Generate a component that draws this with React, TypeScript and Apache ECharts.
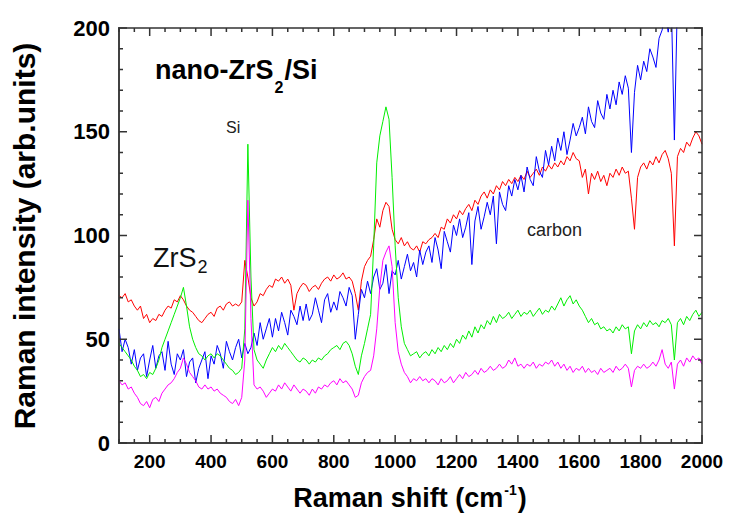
import React, { useEffect, useRef } from "react";
import * as echarts from "echarts";

// Raman shift sampling grid (cm^-1): 100 .. 2000 every 10
const shiftStart = 100;
const shiftStep = 10;

// Intensities (arb. units), one per grid point
const redValues = [
  71, 70, 72, 68, 69, 66, 64, 66, 60, 62, 58,
  60, 59, 62, 61, 64, 66, 65, 69, 68, 71,
  69, 66, 64, 63, 61, 59, 58, 60, 62, 63,
  61, 65, 66, 64, 67, 68, 66, 67, 66, 68,
  88, 80, 70, 66, 68, 72, 71, 74, 76, 75,
  79, 78, 80, 77, 79, 76, 64, 72, 75, 77,
  76, 73, 75, 76, 74, 77, 79, 80, 78, 81,
  79, 80, 82, 79, 80, 78, 72, 64, 78, 85,
  88, 90, 98, 108, 104, 112, 116, 114, 103, 98,
  96, 99, 95, 97, 94, 93, 95, 92, 97, 96,
  98, 99, 101, 99, 104, 103, 108, 106, 110, 108,
  112, 110, 113, 115, 112, 117, 115, 119, 121, 118,
  122, 120, 124, 122, 126, 124, 127, 125, 128, 126,
  129, 127, 131, 128, 130, 132, 129, 133, 131, 134,
  132, 135, 133, 136, 134, 138, 136, 140, 137, 136,
  128, 132, 120, 130, 127, 131, 126, 129, 124, 130,
  128, 132, 129, 133, 130, 131, 118, 103, 128, 133,
  135, 132, 136, 134, 138, 135, 139, 141, 137, 130,
  95, 138, 142, 140, 145, 143, 147, 150, 148, 144,
];

const blueValues = [
  55, 44, 50, 46, 38, 45, 35, 41, 43, 32, 40,
  47, 36, 42, 44, 35, 49, 38, 33, 43, 40,
  45, 32, 39, 41, 29, 36, 40, 44, 31, 42,
  38, 47, 43, 36, 49, 44, 40, 46, 50, 41,
  48, 43, 46, 53, 47, 58, 50, 55, 60, 51,
  60, 54, 63, 58, 52, 64, 61, 57, 66, 59,
  67, 59, 62, 70, 64, 58, 69, 72, 63, 68,
  64, 73, 70, 66, 75, 71, 50, 62, 74, 70,
  78, 72, 80, 84, 74, 77, 86, 72, 83, 81,
  88, 79, 85, 91, 83, 87, 80, 93, 86, 92,
  95, 87, 99, 93, 84, 102, 97, 92, 105, 100,
  108, 99, 104, 111, 86, 107, 114, 103, 109, 116,
  110, 119, 96, 121, 115, 112, 124, 119, 127, 122,
  129, 121, 133, 127, 124, 138, 131, 128, 141, 134,
  143, 136, 147, 141, 150, 139, 146, 154, 148, 152,
  157, 149, 162, 155, 152, 165, 159, 156, 168, 161,
  170, 163, 174, 168, 177, 171, 140, 169, 182, 175,
  184, 179, 190, 186, 181, 195, 199, 206, 198, 212,
  146, 215, 220, 225, 222, 228, 230, 226, 232, 235,
];

const greenValues = [
  48, 46, 44, 42, 40, 37, 35, 32, 33, 31, 34,
  33, 36, 40, 46, 50, 54, 58, 62, 66, 70,
  75, 66, 56, 50, 46, 43, 42, 40, 42, 43,
  41, 43, 42, 40, 38, 36, 35, 33, 34, 36,
  55, 144, 80, 45, 40, 38, 36, 40, 43, 46,
  44, 47, 45, 48, 46, 44, 42, 40, 39, 41,
  40, 38, 40, 39, 41, 40, 42, 43, 45, 46,
  47, 45, 48, 49, 47, 43, 37, 33, 42, 48,
  55, 62, 95, 135, 148, 155, 162, 156, 128, 95,
  70, 56, 48, 45, 42, 43, 44, 41, 43, 44,
  42, 45, 43, 46, 44, 47, 45, 48, 46, 50,
  48, 52, 50, 54, 51, 56, 53, 57, 55, 59,
  57, 61, 58, 62, 60, 61, 63, 60, 62, 64,
  61, 63, 62, 64, 61, 63, 65, 62, 64, 63,
  66, 64, 67, 70, 66, 69, 71, 67, 69, 66,
  64, 61, 58, 60, 57, 58, 55, 56, 54, 55,
  53, 56, 54, 57, 55, 56, 43, 54, 57, 55,
  58, 56, 59, 57, 58, 56, 59, 58, 60, 57,
  40, 58, 60, 57, 61, 59, 62, 64, 61, 63,
];

const magentaValues = [
  30, 28, 29, 26, 27, 24, 22, 19, 18, 20, 17,
  21, 22, 20, 24, 26, 28, 29, 31, 34, 36,
  41, 38, 34, 32, 30, 27, 26, 28, 26, 27,
  25, 26, 24, 23, 22, 20, 19, 21, 18, 22,
  40, 117, 60, 28, 26, 27, 25, 22, 24, 26,
  25, 28, 26, 29, 27, 25, 28, 26, 24, 26,
  25, 23, 26, 24, 27, 26, 28, 27, 29, 30,
  28, 31, 29, 30, 28, 26, 22, 23, 29, 32,
  34, 35, 42, 55, 75, 88, 92, 95, 85, 58,
  44, 38, 34, 32, 29, 31, 30, 32, 30, 31,
  29, 31, 30, 28, 31, 29, 30, 32, 29, 31,
  33, 31, 34, 32, 33, 35, 33, 36, 34, 35,
  37, 35, 36, 38, 36, 37, 40, 38, 41, 37,
  38, 36, 38, 37, 39, 36, 38, 37, 39, 38,
  40, 37, 39, 36, 38, 35, 37, 34, 36, 35,
  37, 34, 36, 34, 35, 33, 36, 34, 35, 36,
  34, 37, 35, 36, 38, 36, 27, 35, 37, 36,
  38, 36, 37, 39, 37, 40, 45, 38, 36, 39,
  26, 38, 40, 37, 41, 39, 42, 40, 41, 38,
];

const xMajorTicks = [200, 400, 600, 800, 1000, 1200, 1400, 1600, 1800, 2000];
const xTickValues = Array.from({ length: 39 }, (_, i) => 100 + i * 50);
const yTickValues = Array.from({ length: 21 }, (_, i) => i * 10);

const X_MIN = 100;
const X_MAX = 2000;
const Y_MIN = 0;
const Y_MAX = 200;

const FONT = '"Liberation Sans", Arial, Helvetica, sans-serif';
const AXIS_COLOR = "#3c3c3c";
const TICK_COLOR = "#333333";

function pairs(values: number[]) {
  return values.map((v, i) => [shiftStart + i * shiftStep, v]);
}

export default function App() {
  const ref = useRef<HTMLDivElement>(null);

  useEffect(() => {
    if (!ref.current) return;
    const chart = echarts.init(ref.current, null, { renderer: "svg" });

    const mkLine = (name: string, values: number[], color: string) => ({
      name,
      type: "line" as const,
      data: pairs(values),
      symbol: "none",
      showSymbol: false,
      clip: true,
      silent: true,
      z: 2,
      lineStyle: { color, width: 1 },
      itemStyle: { color },
    });

    chart.setOption({
      animation: false,
      backgroundColor: "#ffffff",
      grid: {
        left: 119,
        right: 29,
        top: 28,
        bottom: 75,
        containLabel: false,
      },
      xAxis: {
        type: "value",
        min: X_MIN,
        max: X_MAX,
        splitLine: { show: false },
        axisLine: { show: true, onZero: false, lineStyle: { color: AXIS_COLOR, width: 1.5 } },
        axisTick: { show: false },
        axisLabel: {
          show: true,
          customValues: xMajorTicks,
          formatter: (v: number) => String(v),
          fontSize: 19,
          fontWeight: "bold",
          fontFamily: FONT,
          color: "#000",
          margin: 9,
        },
      },
      yAxis: {
        type: "value",
        min: Y_MIN,
        max: Y_MAX,
        interval: 50,
        splitLine: { show: false },
        axisLine: { show: true, onZero: false, lineStyle: { color: AXIS_COLOR, width: 1.5 } },
        axisTick: { show: false },
        axisLabel: {
          fontSize: 22,
          fontWeight: "bold",
          fontFamily: FONT,
          color: "#000",
          margin: 9,
        },
      },
      series: [
        mkLine("red", redValues, "#ff0000"),
        mkLine("blue", blueValues, "#0000ff"),
        mkLine("green", greenValues, "#00ee00"),
        mkLine("magenta", magentaValues, "#ff00ff"),
      ],
    });

    // Frame and tick marks on all four sides, placed through the chart's own scales
    const toPx = (x: number, y: number) =>
      chart.convertToPixel({ xAxisIndex: 0, yAxisIndex: 0 }, [x, y]) as number[];

    const bottomComb: number[][] = [];
    const topComb: number[][] = [];
    xTickValues.forEach((v) => {
      const len = v % 200 === 0 ? 8 : 4;
      const b = toPx(v, Y_MIN);
      const t = toPx(v, Y_MAX);
      bottomComb.push([b[0], b[1]], [b[0], b[1] - len], [b[0], b[1]]);
      topComb.push([t[0], t[1]], [t[0], t[1] + len], [t[0], t[1]]);
    });
    const leftComb: number[][] = [];
    const rightComb: number[][] = [];
    yTickValues.forEach((v) => {
      const len = v % 50 === 0 ? 8 : 4;
      const l = toPx(X_MIN, v);
      const r = toPx(X_MAX, v);
      leftComb.push([l[0], l[1]], [l[0] + len, l[1]], [l[0], l[1]]);
      rightComb.push([r[0], r[1]], [r[0] - len, r[1]], [r[0], r[1]]);
    });

    const comb = (points: number[][]) => ({
      type: "polyline",
      silent: true,
      z: 100,
      shape: { points },
      style: { stroke: TICK_COLOR, lineWidth: 1.5, fill: "none" },
    });

    const texts = [
      {
        type: "text",
        x: 24,
        y: 236,
        rotation: Math.PI / 2,
        silent: true,
        style: {
          text: "Raman intensity (arb.units)",
          fontSize: 30,
          fontWeight: "bold",
          fontFamily: FONT,
          fill: "#000",
          align: "center",
          verticalAlign: "middle",
        },
      },
      {
        type: "text",
        x: 410,
        y: 498,
        silent: true,
        style: {
          text: "{a|Raman shift (cm}{s|-1}{a|)}",
          align: "center",
          verticalAlign: "middle",
          fill: "#000",
          rich: {
            a: { fontSize: 27, fontWeight: "bold", fontFamily: FONT, fill: "#000" },
            s: { fontSize: 14, fontWeight: "bold", fontFamily: FONT, fill: "#000", padding: [0, 1, 17, 1] },
          },
        },
      },
      {
        type: "text",
        x: 155,
        y: 70,
        silent: true,
        style: {
          text: "{a|nano-ZrS}{s|2}{a|/Si}",
          align: "left",
          verticalAlign: "middle",
          fill: "#000",
          rich: {
            a: { fontSize: 27, fontWeight: "bold", fontFamily: FONT, fill: "#000" },
            s: { fontSize: 16, fontWeight: "bold", fontFamily: FONT, fill: "#000", padding: [34, 1, 0, 1] },
          },
        },
      },
      {
        type: "text",
        x: 226,
        y: 127,
        silent: true,
        style: {
          text: "Si",
          fontSize: 16,
          fontFamily: FONT,
          fill: "#222",
          align: "left",
          verticalAlign: "middle",
        },
      },
      {
        type: "text",
        x: 153,
        y: 258,
        silent: true,
        style: {
          text: "{a|ZrS}{s|2}",
          align: "left",
          verticalAlign: "middle",
          fill: "#111",
          rich: {
            a: { fontSize: 27, fontFamily: FONT, fill: "#111" },
            s: { fontSize: 18, fontFamily: FONT, fill: "#111", padding: [17, 0, 0, 1] },
          },
        },
      },
      {
        type: "text",
        x: 527,
        y: 230,
        silent: true,
        style: {
          text: "carbon",
          fontSize: 18,
          fontFamily: FONT,
          fill: "#222",
          align: "left",
          verticalAlign: "middle",
        },
      },
    ];

    chart.setOption({
      graphic: [
        ...texts,
        comb(bottomComb),
        comb(topComb),
        comb(leftComb),
        comb(rightComb),
      ],
    });

    return () => {
      chart.dispose();
    };
  }, []);

  return (
    <div
      ref={ref}
      style={{ position: "fixed", left: 0, top: 0, width: 731, height: 518, background: "#fff" }}
    />
  );
}
